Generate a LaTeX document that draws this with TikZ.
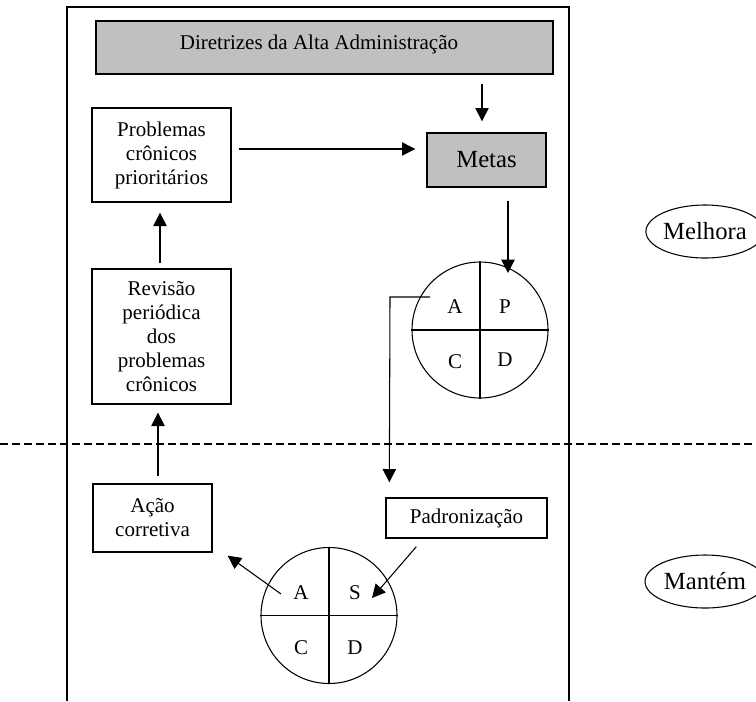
\documentclass[tikz,border=0pt]{standalone}
\usepackage{fontspec}
\setmainfont{Liberation Serif}
\usetikzlibrary{arrows.meta,shapes.geometric}
\newcommand\myfsA{\fontsize{15.75pt}{18pt}\selectfont}
\newcommand\myfsB{\fontsize{18.5pt}{21pt}\selectfont}
\definecolor{boxgray}{HTML}{C0C0C0}
\tikzset{
  box/.style={draw, line width=1pt, align=center, inner sep=0pt, font=\myfsA},
  graybox/.style={box, fill=boxgray},
  arr/.style={line width=0.8pt, -{Triangle[length=10pt,width=10pt]}},
  ln/.style={line width=0.8pt},
  pdca/.style={circle, draw, line width=0.8pt, minimum size=102pt, inner sep=0pt},
  letter/.style={font=\myfsA, inner sep=1pt},
  tag/.style={ellipse, draw, line width=0.8pt, inner sep=0pt, font=\myfsB, minimum height=39.75pt},
}
\begin{document}
\begin{tikzpicture}[x=0.75pt,y=-0.75pt]
\useasboundingbox (0,0) rectangle (756,701);
\clip (0,0) rectangle (756,701);
% outer frame
\draw[line width=1.2pt] (67,701) -- (67,7) -- (569,7) -- (569,701);
% dashed separator
\draw[line width=0.8pt, dash pattern=on 6pt off 3pt] (0,444) -- (756,444);
% boxes
\node[graybox, minimum width=342.75pt, minimum height=39.75pt] (dir) at (324.5,47.5) {};
\node[font=\myfsA] (dirt) at (319,44) {Diretrizes da Alta Administração};
\node[box, minimum width=104.25pt, minimum height=70.5pt] (prob) at (161.5,155) {Problemas\\crônicos\\prioritários};
\node[box, minimum width=104.25pt, minimum height=101.25pt] (rev) at (161.5,336.5) {Revisão\\periódica\\dos\\problemas\\crônicos};
\node[graybox, minimum width=89.25pt, minimum height=40.5pt, font=\myfsB] (metas) at (486.5,160) {Metas};
\node[box, minimum width=89.25pt, minimum height=51pt] (acao) at (152.5,518) {Ação\\corretiva};
\node[box, minimum width=120.75pt, minimum height=30pt] (pad) at (466.5,518) {Padronização};
% PDCA circle
\node[pdca] (c1) at (480,330) {};
\draw[ln] (c1.north) -- (c1.south);
\draw[ln] (c1.west) -- (c1.east);
\node[letter] (c1A) at (455,307) {A};
\node[letter] (c1P) at (505,307) {P};
\node[letter] (c1C) at (455,362) {C};
\node[letter] (c1D) at (505,360) {D};
% SDCA circle
\node[pdca] (c2) at (329,615.5) {};
\draw[ln] (c2.north) -- (c2.south);
\draw[ln] (c2.west) -- (c2.east);
\node[letter] (c2A) at (301,593) {A};
\node[letter] (c2S) at (355,593) {S};
\node[letter] (c2C) at (301,648) {C};
\node[letter] (c2D) at (355,648) {D};
% side tags
\node[tag, minimum width=87pt] (melhora) at (705,231.5) {Melhora};
\node[tag, minimum width=90pt] (mantem) at (705,581.5) {Mantém};
% connectors
\draw[arr] ([shift={(-4.5,9)}]dir.south -| metas.north) -- ([shift={(-4.5,-11)}]metas.north);
\draw[arr] ([shift={(7,-6)}]prob.east) -- ([shift={(-11,-11)}]metas.west);
\draw[arr] ([shift={(-1.5,-5)}]rev.north) -- ([shift={(-1.5,10)}]prob.south);
\draw[arr] ([shift={(5.5,-7)}]acao.north) -- ([shift={(-3.5,8)}]rev.south);
\draw[arr] ([shift={(21.5,13)}]metas.south) -- ([shift={(28,-57)}]c1.center);
\coordinate (k1) at (390,297);
\draw[arr] ([shift={(-25,-10)}]c1A.center) -- (k1) -- ([shift={(4,-15)}]pad.north west);
\draw[arr] ([shift={(-20,1)}]c2A.center) -- ([shift={(15,3)}]acao.south east);
\draw[arr] ([shift={(31,8)}]pad.south west) -- ([shift={(17,5)}]c2S.center);
\end{tikzpicture}
\end{document}
